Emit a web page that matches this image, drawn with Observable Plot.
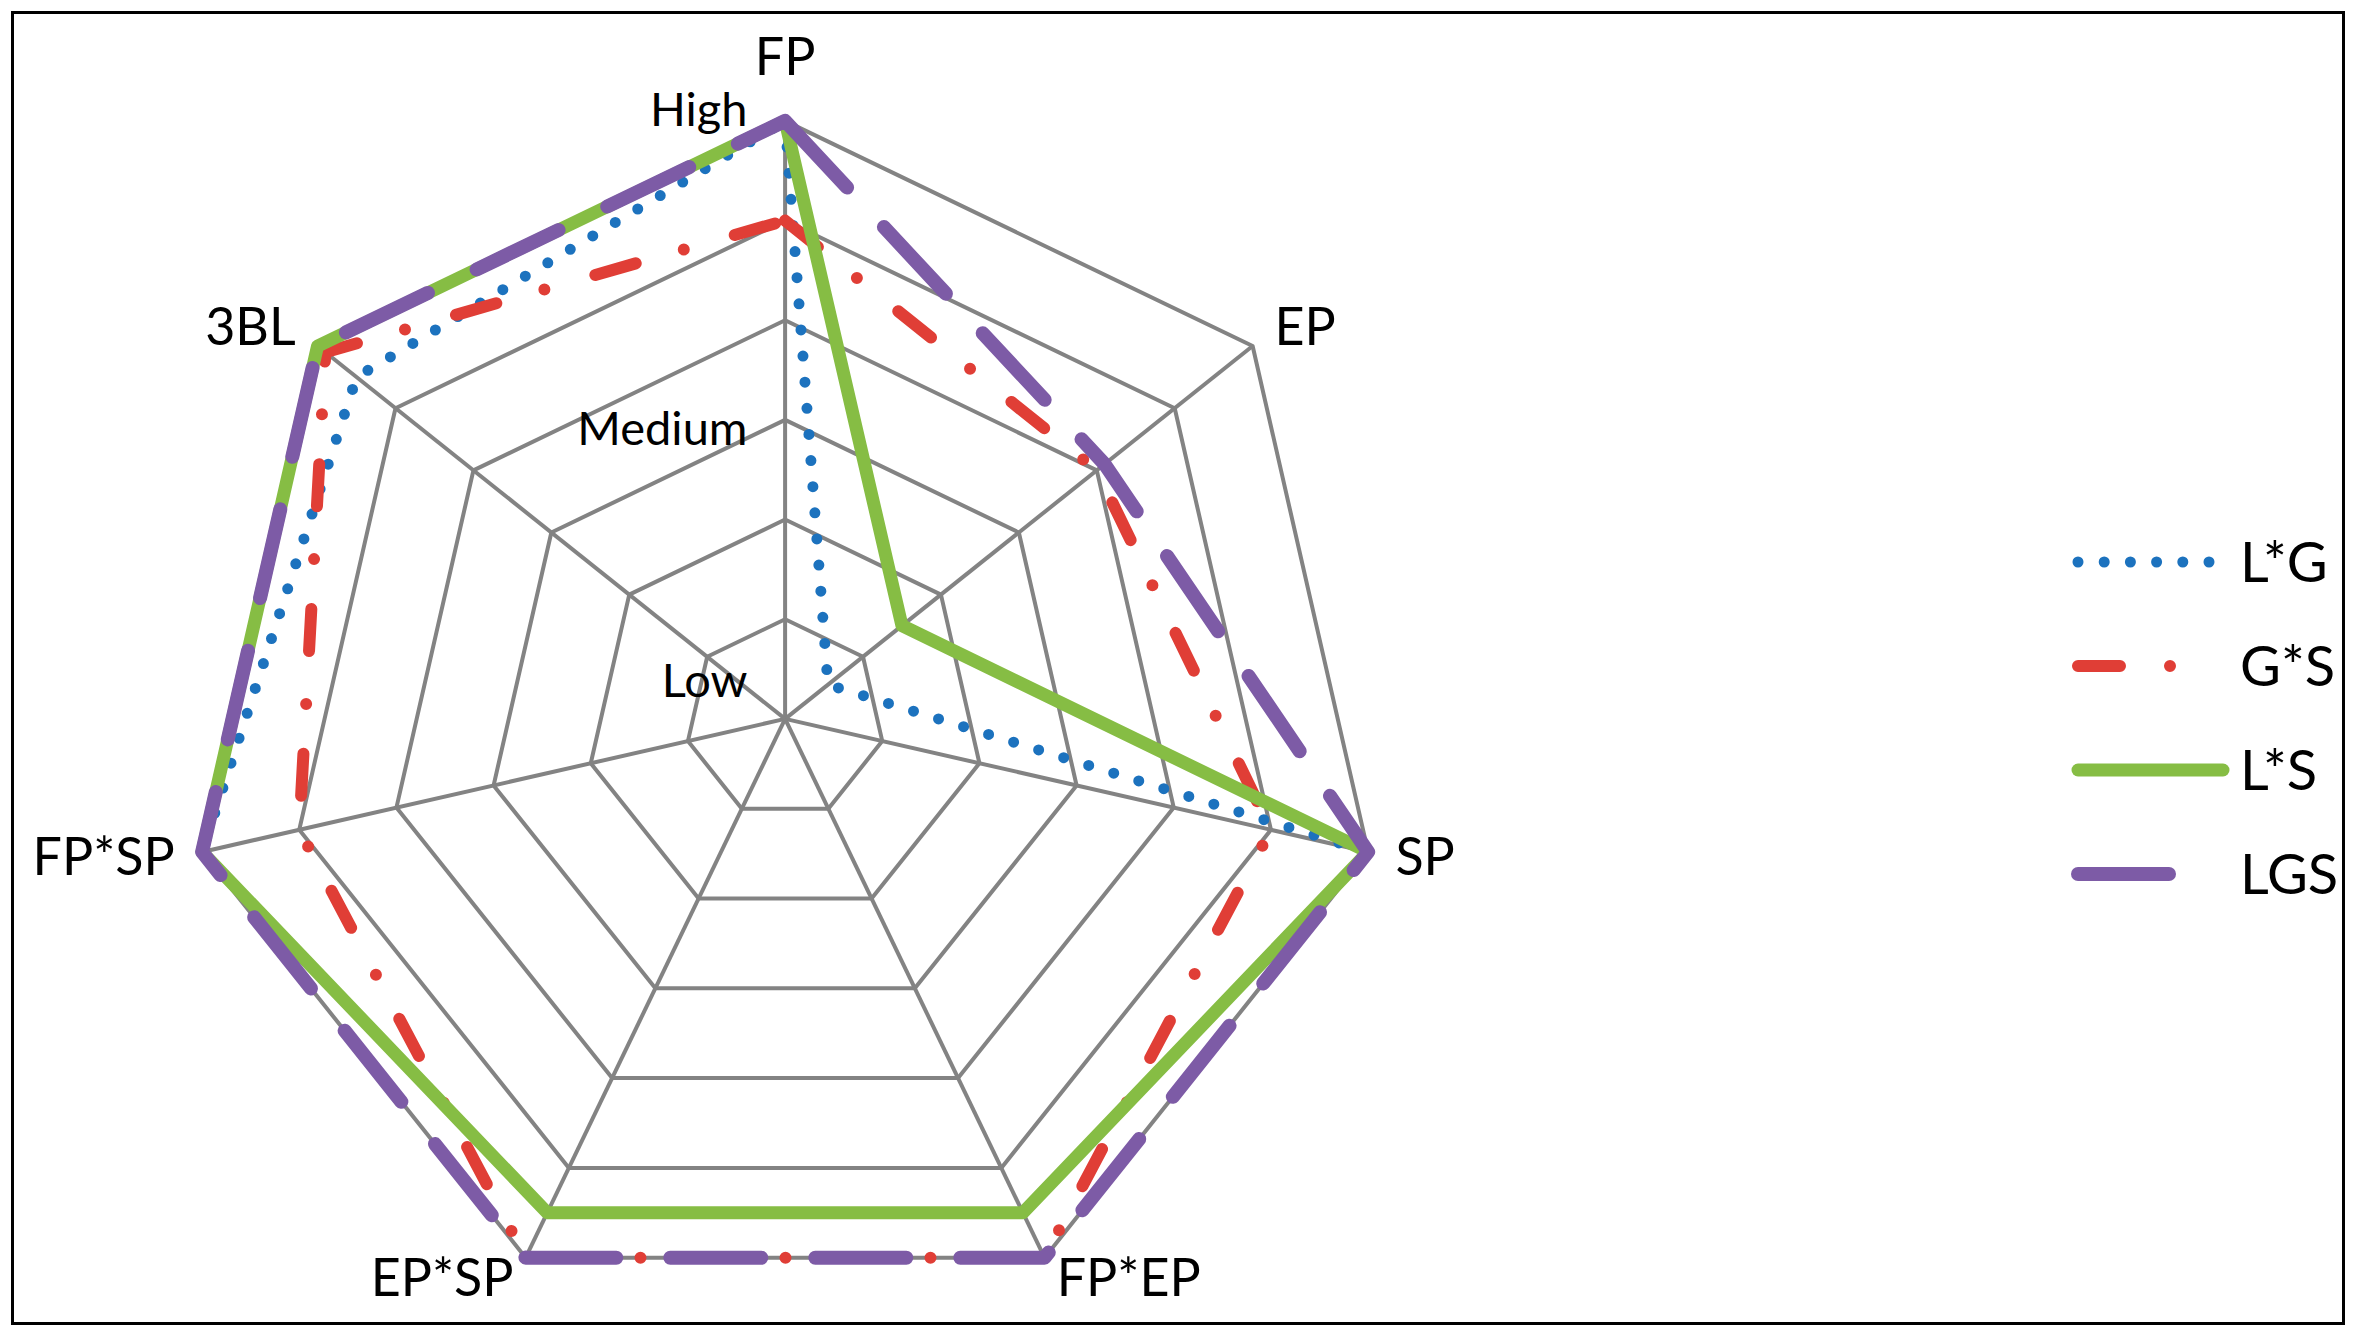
<!DOCTYPE html>
<html>
<head>
<meta charset="utf-8">
<script src="https://cdn.jsdelivr.net/npm/d3@7"></script>
<script src="https://cdn.jsdelivr.net/npm/@observablehq/plot@0.6"></script>
<style>
html, body { margin: 0; padding: 0; background: #fff; }
#wrap { position: relative; width: 2357px; height: 1337px; overflow: hidden; background: #fff; font-family: Lato, "Open Sans", sans-serif; }
#frame { position: absolute; left: 11px; top: 11px; width: 2334px; height: 1314px; border: 3px solid #000; box-sizing: border-box; pointer-events: none; }
#chart { position: absolute; left: 0; top: 0; }
#legend { position: absolute; left: 0; top: 0; }
</style>
</head>
<body>
<div id="wrap">
  <div id="chart"></div>
  <svg id="legend" width="2357" height="1337"></svg>
  <div id="frame"></div>
</div>
<script>
// ---- data ----
const axes = ["FP", "EP", "SP", "FP*EP", "EP*SP", "FP*SP", "3BL"];
const seriesNames = ["L*G", "G*S", "L*S", "LGS"];
const valuesLG  = [6, 0.55, 6, 5.5, 5.5, 6, 5.5];
const valuesGS  = [5, 4.0, 5, 6, 6, 5, 5.9];
const valuesLS  = [6, 1.5, 6, 5.5, 5.5, 6, 6];
const valuesLGS = [6, 4.1, 6, 6, 6, 6, 6];
const ringLevels = [1, 2, 3, 4, 5, 6];
const levelLabels = ["Low", "Medium", "High"];
const levelLabelValues = [0.37, 2.9, 6.1];

// ---- layout / style ----
const W = 1900, H = 1337;
const cx = 784.6, cy = 718.4, R = 598, maxV = 6;
const unit = R / maxV;
const n = axes.length;
const ang = i => i * 2 * Math.PI / n;
const px = (v, i) => v * Math.sin(ang(i));
const py = (v, i) => v * Math.cos(ang(i));

const styles = {
  "L*G": {stroke: "#1c72be", strokeWidth: 11, dash: "0 26.2"},
  "G*S": {stroke: "#e03e36", strokeWidth: 12, dash: "42 50 0 53"},
  "L*S": {stroke: "#86bd44", strokeWidth: 13, dash: null},
  "LGS": {stroke: "#7d5ba6", strokeWidth: 14, dash: "91 54"}
};
const seriesValues = {"L*G": valuesLG, "G*S": valuesGS, "L*S": valuesLS, "LGS": valuesLGS};

const ringData = ringLevels.flatMap(l => axes.map((a, i) => ({level: l, x: px(l, i), y: py(l, i)})));
const spokeData = axes.map((a, i) => ({x1: 0, y1: 0, x2: px(maxV, i), y2: py(maxV, i)}));

const labelData = axes.map((a, i) => {
  const s = Math.sin(ang(i)), c = Math.cos(ang(i));
  const dxp = 28 * s;
  const dyp = c > 0.9 ? -63 : (c < -0.8 ? 22 : -29 * c);
  return {
    text: a,
    x: px(maxV, i) + dxp / unit,
    y: py(maxV, i) - dyp / unit,
    anchor: s > 0.1 ? "start" : (s < -0.1 ? "end" : "middle")
  };
});
const levelData = levelLabels.map((t, k) => ({text: t, x: -37.6 / unit, y: levelLabelValues[k]}));

const seriesMarks = seriesNames.map(name => {
  const st = styles[name];
  const pts = seriesValues[name].map((v, i) => ({x: px(v, i), y: py(v, i)}));
  const opts = {x: "x", y: "y", curve: "linear-closed", stroke: st.stroke, strokeWidth: st.strokeWidth,
    strokeLinecap: "round", strokeLinejoin: "round"};
  if (st.dash) opts.strokeDasharray = st.dash;
  return Plot.line(pts, opts);
});

const font = "Lato";
const chart = Plot.plot({
  width: W, height: H,
  margin: 0,
  x: {domain: [-cx / unit, (W - cx) / unit], range: [0, W], axis: null},
  y: {domain: [-(H - cy) / unit, cy / unit], range: [H, 0], axis: null},
  style: {background: "transparent", fontFamily: font},
  marks: [
    Plot.line(ringData, {x: "x", y: "y", z: "level", curve: "linear-closed", stroke: "#838383", strokeWidth: 4}),
    Plot.link(spokeData, {x1: "x1", y1: "y1", x2: "x2", y2: "y2", stroke: "#838383", strokeWidth: 4}),
    ...seriesMarks,
    ...["start", "end", "middle"].map(anc => Plot.text(labelData, {
      filter: d => d.anchor === anc, x: "x", y: "y", text: "text",
      textAnchor: anc, lineAnchor: "middle", fontSize: 52, fill: "#000", fontFamily: font
    })),
    Plot.text(levelData, {x: "x", y: "y", text: "text", textAnchor: "end", lineAnchor: "middle",
      fontSize: 47, fill: "#000", fontFamily: font})
  ]
});
document.getElementById("chart").appendChild(chart);

// ---- legend ----
const leg = d3.select("#legend");
const legX0 = 2078, legX1 = 2223, legTextX = 2240, legY0 = 562, legStep = 104;
seriesNames.forEach((name, k) => {
  const st = styles[name];
  const y = legY0 + k * legStep;
  const ln = leg.append("line").attr("x1", legX0).attr("x2", legX1).attr("y1", y).attr("y2", y)
    .attr("stroke", st.stroke).attr("stroke-width", st.strokeWidth)
    .attr("stroke-linecap", "round");
  if (st.dash) ln.attr("stroke-dasharray", st.dash);
  leg.append("text").attr("x", legTextX).attr("y", y).attr("dy", "0.36em")
    .attr("font-family", font).attr("font-size", 56).attr("fill", "#000").text(name);
});
</script>
</body>
</html>
